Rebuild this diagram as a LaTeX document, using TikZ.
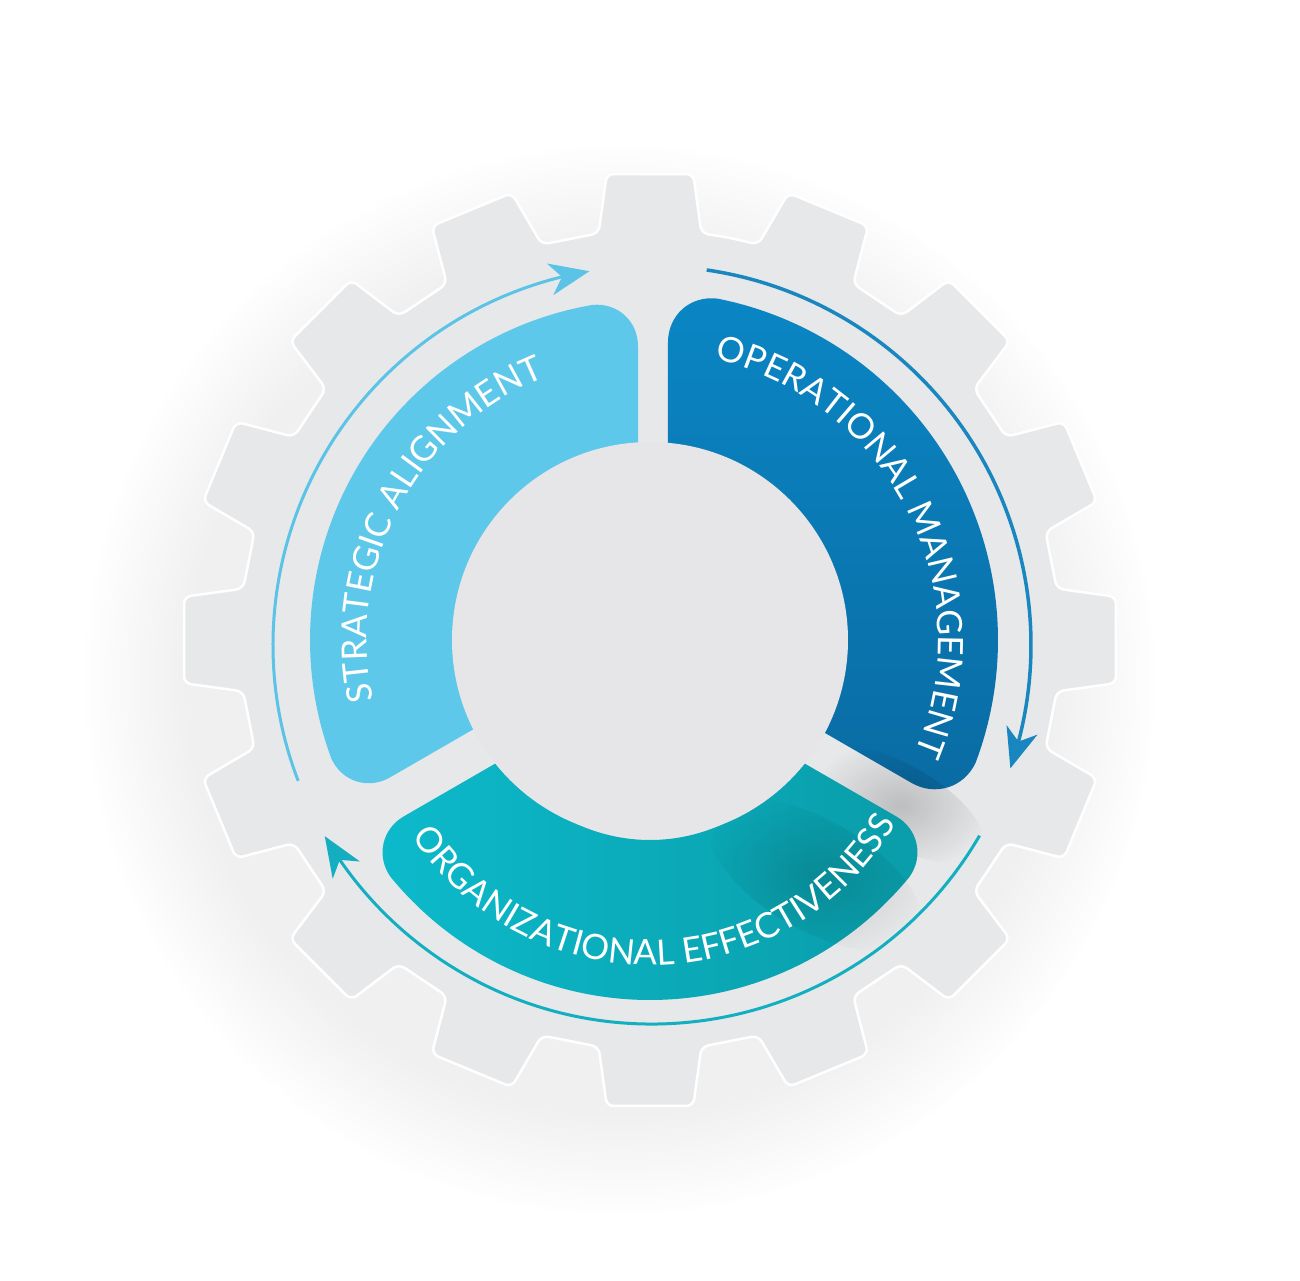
\documentclass[tikz,border=0pt]{standalone}
\usepackage{fontspec}
\setsansfont{Lato}
\usetikzlibrary{arrows.meta,bending,calc,decorations.text,fadings}

\definecolor{gearfill}{HTML}{E7E8EA}
\definecolor{hubfill}{HTML}{E6E6E8}
\definecolor{stratc}{HTML}{5DC8EA}
\definecolor{optop}{HTML}{0A86C4}
\definecolor{opbot}{HTML}{0A6BA3}
\definecolor{orgl}{HTML}{0CBACB}
\definecolor{orgr}{HTML}{0A9CA9}
\definecolor{arrowA}{HTML}{5BC3E6}
\definecolor{arrowB}{HTML}{1A86BF}
\definecolor{arrowC}{HTML}{13AFC0}

\tikzfading[name=softfade, inner color=transparent!0, outer color=transparent!100]

\tikzset{
  cyclearrow/.style={line width=3pt, -{Stealth[length=40pt,width=32pt,inset=12pt]}},
  seglabel/.style={decorate, decoration={text along path, text align=center,
      text={|\color{white}\lblfont|#1}}}
}

\newcommand{\lblfont}{\fontsize{35}{35}\selectfont\sffamily}

% ring segment: th1, th2, g1, g2, ri, ro, rho, style
\newcommand{\ringseg}[8]{%
  \pgfmathsetmacro{\aIs}{#1+asin(#3/#5)}%
  \pgfmathsetmacro{\aOs}{#1+asin(#3/#6)}%
  \pgfmathsetmacro{\aOe}{#2-asin(#4/#6)}%
  \pgfmathsetmacro{\aIe}{#2-asin(#4/#5)}%
  \pgfmathsetmacro{\dA}{#7/#6*180/pi}%
  \pgfmathsetmacro{\aOsB}{\aOs+\dA}%
  \pgfmathsetmacro{\aOeB}{\aOe-\dA}%
  \coordinate (Is) at (\aIs:#5pt);
  \coordinate (Os) at (\aOs:#6pt);
  \coordinate (Oe) at (\aOe:#6pt);
  \coordinate (Ie) at (\aIe:#5pt);
  \coordinate (P1) at ($(Os)!#7pt!(Is)$);
  \coordinate (P2) at (\aOsB:#6pt);
  \coordinate (P3) at (\aOeB:#6pt);
  \coordinate (P4) at ($(Oe)!#7pt!(Ie)$);
  \path[#8] (Is) -- (P1) .. controls ($(P1)!0.55!(Os)$) and ($(P2)!0.55!(Os)$) .. (P2)
    arc[start angle=\aOsB, end angle=\aOeB, radius=#6pt]
    .. controls ($(P3)!0.55!(Oe)$) and ($(P4)!0.55!(Oe)$) .. (P4)
    -- (Ie) arc[start angle=\aIe, end angle=\aIs, radius=#5pt] -- cycle;
}

\begin{document}
\begin{tikzpicture}[x=1pt,y=1pt]
\useasboundingbox (-650pt,-640pt) rectangle (650pt,640pt);
\fill[white] (-650pt,-640pt) rectangle (650pt,640pt);

% soft halo behind the gear
\fill[black!6, path fading=circle with fuzzy edge 20 percent] (-30pt,-40pt) circle (535pt);

% gear
\fill[gearfill, draw=white, line width=2.5pt, rounded corners=7pt]
  (78.75:410pt)
  \foreach \k in {0,...,15} {
    -- ({90+22.5*\k-7.2}:410pt) -- ({90+22.5*\k-5.3}:468pt)
    -- ({90+22.5*\k+5.3}:468pt) -- ({90+22.5*\k+7.2}:410pt)
  } -- cycle;

% segments
\ringseg{90}{210}{12}{11}{185}{340}{46}{fill=stratc}
\ringseg{-30}{90}{7}{18}{185}{348}{50}{top color=optop, bottom color=opbot}

% shadow in the lower-right gap
\begin{scope}[shift={(250pt,-165pt)}, rotate=-30]
  \fill[black, opacity=0.18, path fading=softfade] (0,0) ellipse [x radius=95pt, y radius=40pt];
\end{scope}

\begin{scope}[yshift=-25pt]
  \ringseg{210}{330}{8}{8}{175}{335}{46}{left color=orgl, right color=orgr}
\end{scope}
\begin{scope}[shift={(165pt,-235pt)}, rotate=-30]
  \fill[black, opacity=0.14, path fading=softfade] (0,0) ellipse [x radius=120pt, y radius=55pt];
\end{scope}

% hub
\node[circle, fill=hubfill, minimum size=396pt, inner sep=0pt] (hub) at (0pt,0pt) {};

% labels
\path[seglabel=STRATEGIC ALIGNMENT] (205:283pt) arc[start angle=205, end angle=99, radius=283pt];
\path[seglabel=OPERATIONAL MANAGEMENT] (82:288pt) arc[start angle=82, end angle=-28, radius=288pt];
\begin{scope}[yshift=-40pt]
  \path[seglabel=ORGANIZATIONAL EFFECTIVENESS] (203:285pt) arc[start angle=203, end angle=340, radius=285pt];
\end{scope}

% cycle arrows
\coordinate (ac) at (2pt,-5pt);
\coordinate (sA) at ([shift={(201:379pt)}]ac);
\coordinate (sB) at ([shift={(81.7:379pt)}]ac);
\coordinate (sC) at ([shift={(-30.2:379pt)}]ac);
\draw[cyclearrow, arrowA] (sA) arc[start angle=201, end angle=99.5, radius=379pt];
\draw[cyclearrow, arrowB, line width=3.5pt] (sB) arc[start angle=81.7, end angle=-19, radius=379pt];
\draw[cyclearrow, arrowC] (sC) arc[start angle=-30.2, end angle=-149.7, radius=379pt];
\end{tikzpicture}
\end{document}
